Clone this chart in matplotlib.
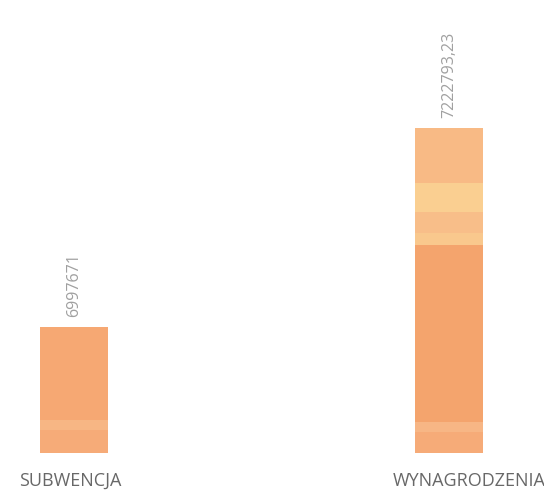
import matplotlib.pyplot as plt

plt.rcParams['font.family'] = ['Open Sans', 'DejaVu Sans']

# ===== kategorie =====
categories = ['SUBWENCJA', 'WYNAGRODZENIA']
value_labels = ['6997671', '7222793,23']

# ===== segmenty słupków (od dołu) =====
seg_subwencja = [23, 10, 93]
col_subwencja = ['#F6AB78', '#F7B684', '#F6A873']

seg_wynagrodzenia = [21, 10, 177, 12, 21, 29, 55]
col_wynagrodzenia = ['#F6AB78', '#F7B685', '#F4A46D', '#F9C88D',
                     '#F8BE89', '#FACF91', '#F8BA85']

segments = [seg_subwencja, seg_wynagrodzenia]
colors = [col_subwencja, col_wynagrodzenia]

fig = plt.figure(figsize=(5.44, 4.91), dpi=100)
ax = fig.add_axes([0, 38 / 491, 1, 453 / 491])

bar_w = 0.181
for i, (segs, cols) in enumerate(zip(segments, colors)):
    bottom = 0
    for v, c in zip(segs, cols):
        ax.bar(i, v, bottom=bottom, width=bar_w, color=c, edgecolor='none')
        bottom += v
    ax.annotate(value_labels[i], (i, bottom), xytext=(0, 7), textcoords='offset points',
                rotation=90, ha='center', va='bottom', fontsize=11.5, color='#a0a0a0')

# ===== podpisy kategorii =====
label_x = [-0.011, 1.053]
for x, name in zip(label_x, categories):
    ax.text(x, -28, name, ha='center', va='center', fontsize=13, color='#686868')

ax.set_xlim(-74 / 375, 1 + 95 / 375)
ax.set_ylim(0, 453)
ax.axis('off')

fig.savefig('out.png', dpi=100)
